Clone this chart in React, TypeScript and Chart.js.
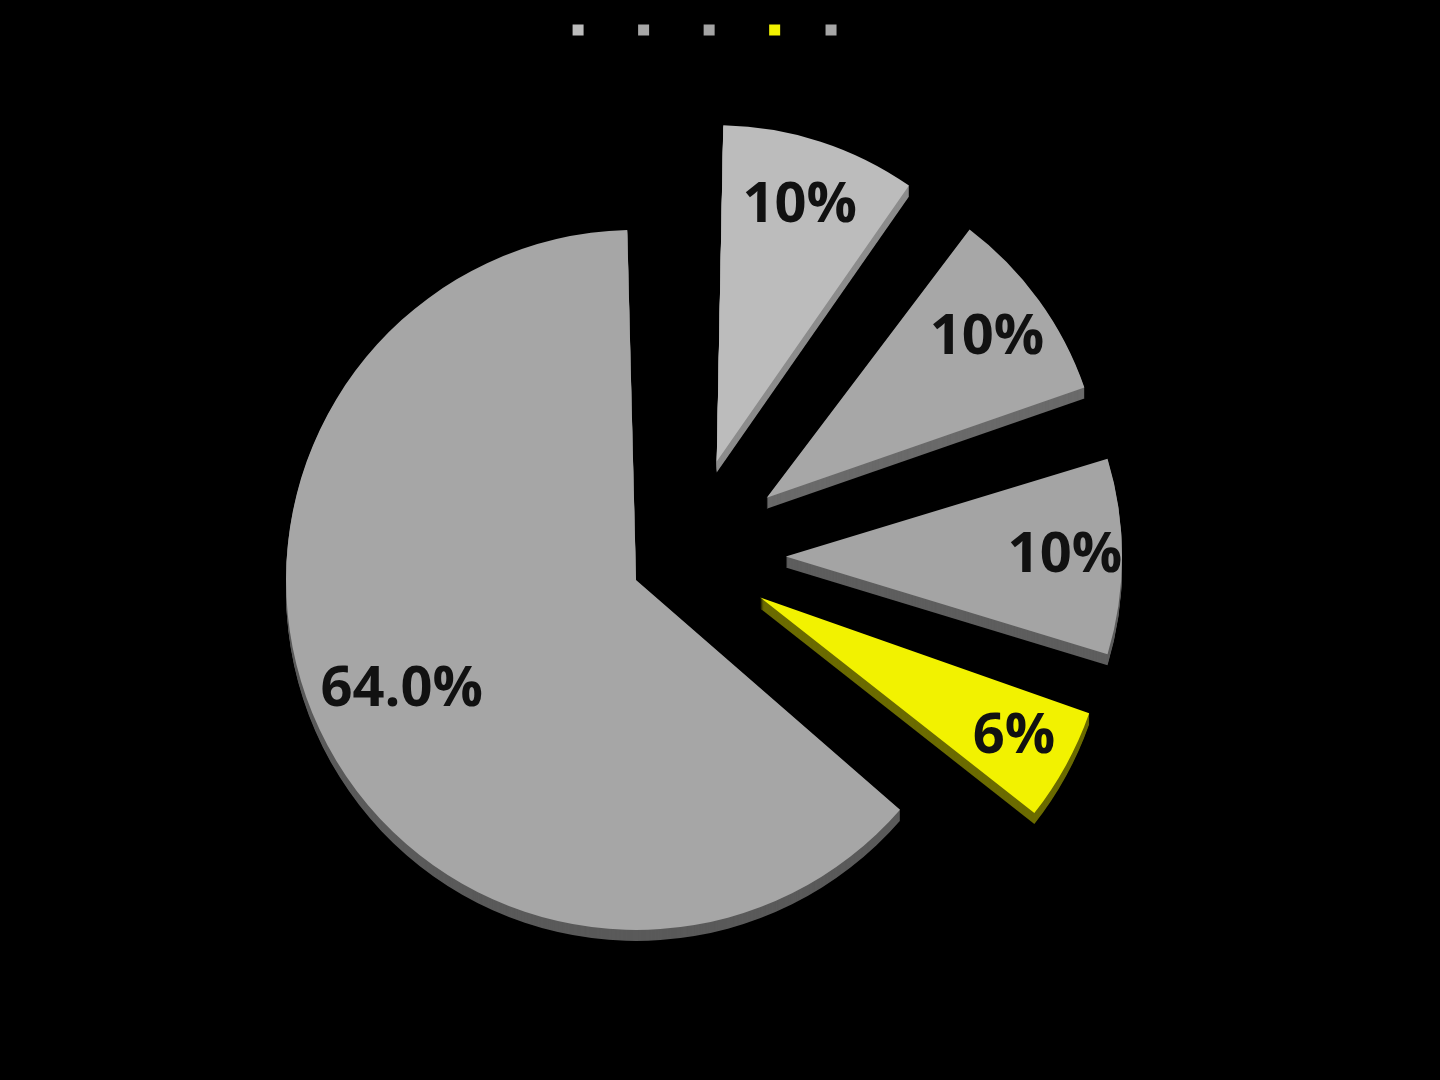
import { useEffect, useRef } from "react";
import Chart from "chart.js/auto";

// slice values (percent) and the labels printed on them
const shares = [10, 10, 10, 6, 64];
const sliceLabels = ["10%", "10%", "10%", "6%", "64.0%"];

// styling
const faceColors = ["#bcbcbc", "#a7a7a7", "#a4a4a4", "#f2f200", "#a6a6a6"];
const sideColors = ["#8c8c8c", "#6a6a6a", "#5e5e5e", "#6b6b00", "#5a5a5a"];
const explode = [400, 400, 400, 340, 220];
const labelReach = [0.8, 0.81, 0.83, 0.83, 0.74];
const DEPTH = 11;

// same geometry the arc element uses when it draws an offset slice
function slicePath(ctx: CanvasRenderingContext2D, arc: any, dy: number) {
  const { x, y, startAngle, endAngle, outerRadius } = arc.getProps(
    ["x", "y", "startAngle", "endAngle", "outerRadius"],
    true
  );
  const t = (arc.options.offset || 0) / 4;
  const alpha = endAngle - startAngle;
  const mid = (startAngle + endAngle) / 2;
  const ro = t * (1 - Math.sin(Math.min(Math.PI, alpha)));
  const R = outerRadius + ro;
  const beta = Math.max(0.001, alpha * R - ro / Math.PI) / R;
  const a0 = startAngle + (alpha - beta) / 2;
  const a1 = endAngle - (alpha - beta) / 2;
  const cx = x + Math.cos(mid) * t;
  const cy = y + Math.sin(mid) * t + dy;
  ctx.beginPath();
  ctx.moveTo(cx, cy);
  ctx.arc(cx, cy, R, a0, a1);
  ctx.closePath();
  return { cx, cy, R, mid };
}

const depthPlugin = {
  id: "depth",
  beforeDatasetsDraw(chart: any) {
    const { ctx } = chart;
    const arcs = chart.getDatasetMeta(0).data;
    ctx.save();
    arcs.forEach((arc: any, i: number) => {
      ctx.fillStyle = sideColors[i];
      for (let k = DEPTH; k >= 1; k--) {
        slicePath(ctx, arc, k);
        ctx.fill();
      }
    });
    ctx.restore();
  },
};

const valueLabelPlugin = {
  id: "valueLabels",
  afterDatasetsDraw(chart: any) {
    const { ctx } = chart;
    const arcs = chart.getDatasetMeta(0).data;
    ctx.save();
    ctx.font = "bold 56px 'Open Sans'";
    ctx.fillStyle = "#111";
    ctx.textAlign = "center";
    ctx.textBaseline = "middle";
    arcs.forEach((arc: any, i: number) => {
      const { cx, cy, R, mid } = slicePath(ctx, arc, 0);
      const d = R * labelReach[i];
      ctx.fillText(sliceLabels[i], cx + Math.cos(mid) * d, cy + Math.sin(mid) * d);
    });
    ctx.restore();
  },
};

const ExplodedPie = () => {
  const canvasRef = useRef<HTMLCanvasElement | null>(null);

  useEffect(() => {
    const ctx = canvasRef.current?.getContext("2d");
    if (!ctx) return;

    const chart = new Chart(ctx, {
      type: "pie",
      data: {
        labels: sliceLabels,
        datasets: [
          {
            data: shares,
            backgroundColor: faceColors,
            borderWidth: 0,
            borderColor: "#000",
            offset: explode,
          },
        ],
      },
      options: {
        animation: false,
        responsive: true,
        maintainAspectRatio: false,
        events: [],
        radius: 295,
        layout: { padding: { top: 7, bottom: 15, left: 22, right: 0 } },
        plugins: {
          legend: {
            position: "top",
            labels: {
              boxWidth: 11,
              boxHeight: 11,
              padding: 15,
              color: "#000",
              font: { family: "'Open Sans'", size: 16 },
            },
          },
          title: {
            display: true,
            text: "",
            position: "right",
            padding: 38,
          },
          tooltip: { enabled: false },
        },
      },
      plugins: [depthPlugin, valueLabelPlugin],
    });

    return () => {
      chart.destroy();
    };
  }, []);

  return (
    <div
      style={{
        position: "absolute",
        left: 0,
        top: 0,
        width: 1440,
        height: 1080,
        background: "#000",
      }}
    >
      <canvas ref={canvasRef} />
    </div>
  );
};

export default function App() {
  return <ExplodedPie />;
}
